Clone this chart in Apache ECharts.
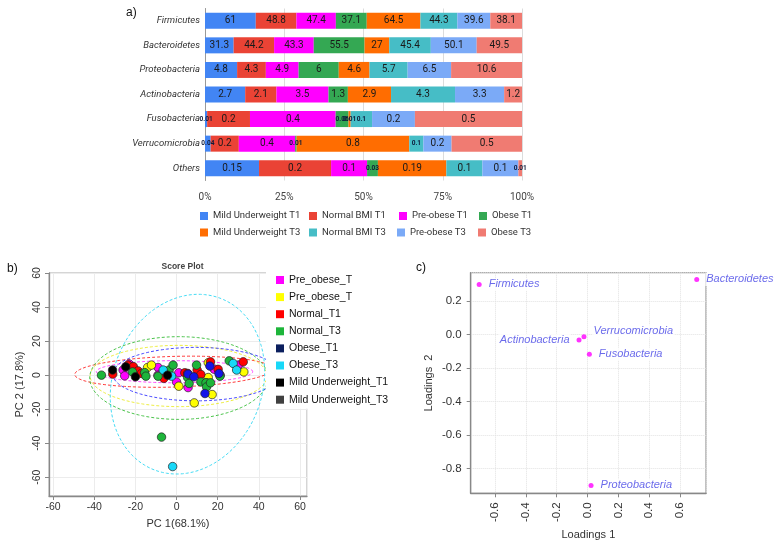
<!DOCTYPE html>
<html><head><meta charset="utf-8">
<script src="https://cdn.jsdelivr.net/npm/echarts@6/dist/echarts.min.js"></script>
<style>html,body{margin:0;padding:0;background:#fff}#c{width:777px;height:542px}</style>
</head><body><div id="c"></div>
<script>
// ---------- Panel a data ----------
const phyla = ['Firmicutes','Bacteroidetes','Proteobacteria','Actinobacteria','Fusobacteria','Verrucomicrobia','Others'];
const barGroups = ['Mild Underweight T1','Normal BMI T1','Pre-obese T1','Obese T1','Mild Underweight T3','Normal BMI T3','Pre-obese T3','Obese T3'];
const mildT1   = [61, 31.3, 4.8, 2.7, 0.01, 0.04, 0.15];
const normalT1 = [48.8, 44.2, 4.3, 2.1, 0.2, 0.2, 0.2];
const preT1    = [47.4, 43.3, 4.9, 3.5, 0.4, 0.4, 0.1];
const obeseT1  = [37.1, 55.5, 6, 1.3, 0.06, 0.01, 0.03];
const mildT3   = [64.5, 27, 4.6, 2.9, 0.01, 0.8, 0.19];
const normalT3 = [44.3, 45.4, 5.7, 4.3, 0.1, 0.1, 0.1];
const preT3    = [39.6, 50.1, 6.5, 3.3, 0.2, 0.2, 0.1];
const obeseT3  = [38.1, 49.5, 10.6, 1.2, 0.5, 0.5, 0.01];

// ---------- Panel b data ----------
const scoreNames  = ['Pre_obese_T1','Pre_obese_T3','Normal_T1','Normal_T3','Obese_T1','Obese_T3','Mild Underweight_T1','Mild Underweight_T3'];
const scoreLabels = ['Pre_obese_T','Pre_obese_T','Normal_T1','Normal_T3','Obese_T1','Obese_T3','Mild Underweight_T1','Mild Underweight_T3'];
const sPreT1 = [[-26,3],[-25.2,-0.4],[-23,6.5],[-9,4.5],[-9,0],[1.1,1.4],[0,-4],[5.6,-7.3],[18.3,3.5],[21.2,0],[30,5.9]];
const sPreT3 = [[-14.1,4.5],[-12.2,5.9],[1.1,-6.5],[8.6,-16.3],[15.4,7.3],[15.4,-1.4],[14.6,-4.5],[17.3,-11.4],[32.7,1.9]];
const sNormT1 = [[-31,0.6],[-23.5,5.9],[-21,5],[-18.7,2.5],[-17,1],[-6.2,-1.9],[4,1.4],[5.4,1],[10,3],[11.8,0.4],[16.5,7.8],[20.2,3.4],[32.4,7.8]];
const sNormT3 = [[-36.5,0],[-21.4,1.9],[-15.5,1.5],[-14.9,-0.6],[-9,-0.6],[-3.6,3],[-1.7,5.9],[5.4,-1.4],[6.1,-4.9],[9.7,5.9],[11.8,-4],[14.3,-4.5],[14.6,-6.9],[16.5,-4.5],[21.1,-0.6],[25.6,8.4],[-7.3,-36.4]];
const sObT1 = [[5.6,0.6],[8.4,-1],[16.2,5.3],[20.6,1],[13.8,-10.8]];
const sObT3 = [[-6.5,3],[-2.4,-0.6],[27.5,6.9],[29.2,3],[-1.9,-53.7]];
const sMildT1 = [[-31.1,3],[-24.7,4.9],[-20,-1],[-4.4,0]];
const sMildT3 = [];
// confidence ellipses: group, centre, radii, rotation (deg)
const ellGroup = ['Normal_T1','Pre_obese_T1','Pre_obese_T3','Normal_T3','Obese_T1','Obese_T3'];
const ellCx = [-1.5, -1, 1, 1.1, 9.6, 5.3];
const ellCy = [2, 2, -0.5, -1.7, 0.6, -5.3];
const ellRx = [48, 38, 43, 43.3, 40.6, 36.8];
const ellRy = [9, 6.5, 18, 24.3, 15.7, 53.3];
const ellAng = [2, 0, 0, 0, 0, -11];

// ---------- Panel c data ----------
const loadNames = ['Firmicutes','Bacteroidetes','Actinobacteria','Verrucomicrobia','Fusobacteria','Proteobacteria'];
const load1 = [-0.702, 0.708, -0.055, -0.023, 0.012, 0.023];
const load2 = [0.298, 0.328, -0.034, -0.014, -0.119, -0.902];

// ---------- build ----------
const barColors = ['#4285f4','#ea4335','#ff00ff','#34a853','#ff6d01','#46bdc6','#7baaf7','#f07b72'];
const rawBars = [mildT1, normalT1, preT1, obeseT1, mildT3, normalT3, preT3, obeseT3];
const totals = phyla.map((_, i) => rawBars.reduce((s, a) => s + a[i], 0));
const scoreData = [sPreT1, sPreT3, sNormT1, sNormT3, sObT1, sObT3, sMildT1, sMildT3];
const scoreColors = ['#ff00ff','#ffff00','#ff0000','#1db53a','#1414e8','#18d8f8','#000000','#404040'];
const ellColors = {Normal_T1:'#ff3b3b', Pre_obese_T1:'#ff4dff', Pre_obese_T3:'#eeee44', Normal_T3:'#4cc44c', Obese_T1:'#4a4aff', Obese_T3:'#46dcf5'};

const fontA = 'Roboto, Arial, sans-serif';
const fontB = '"Liberation Sans", Arial, sans-serif';

const series = [];
rawBars.forEach((arr, si) => {
  series.push({
    type: 'bar', name: barGroups[si], stack: 'a', xAxisIndex: 0, yAxisIndex: 0,
    barWidth: 16, itemStyle: {color: barColors[si]}, emphasis: {disabled: true},
    label: {show: true, position: 'inside', formatter: p => String(p.data.raw), fontSize: 10, color: '#1a1a1a', fontFamily: fontA},
    data: arr.map((v, i) => {
      const pct = v / totals[i] * 100;
      const item = {value: pct, raw: v};
      if (pct < 7 && v < 1) item.label = {fontSize: 6.5, fontWeight: 'bold', color: '#0d1a3a'};
      return item;
    })
  });
});
// ellipses
series.push({
  type: 'custom', xAxisIndex: 1, yAxisIndex: 1, silent: true, z: 1,
  data: ellGroup.map((g, i) => [ellCx[i], ellCy[i], ellRx[i], ellRy[i], ellAng[i], i]),
  renderItem: (params, api) => {
    const cx = api.value(0), cy = api.value(1), rx = api.value(2), ry = api.value(3);
    const a = api.value(4) * Math.PI / 180;
    const pts = [];
    for (let k = 0; k <= 120; k++) {
      const t = k / 120 * Math.PI * 2;
      const x = cx + rx * Math.cos(t) * Math.cos(a) - ry * Math.sin(t) * Math.sin(a);
      const y = cy + rx * Math.cos(t) * Math.sin(a) + ry * Math.sin(t) * Math.cos(a);
      pts.push(api.coord([x, y]));
    }
    return {type: 'polyline', shape: {points: pts}, style: {fill: null, stroke: ellColors[ellGroup[api.value(5)]], lineWidth: 1, lineDash: [3, 2]}};
  }
});
scoreData.forEach((d, si) => {
  series.push({
    type: 'scatter', name: scoreNames[si], xAxisIndex: 1, yAxisIndex: 1, z: 3,
    symbolSize: 8.5, data: d, emphasis: {disabled: true},
    itemStyle: {color: scoreColors[si], borderColor: '#222', borderWidth: 0.7, opacity: 1}
  });
});
// loadings
const labelOpts = {
  Actinobacteria: {position: 'left'},
  Verrucomicrobia: {position: 'right', offset: [0, -6]}
};
series.push({
  type: 'scatter', xAxisIndex: 2, yAxisIndex: 2, symbolSize: 5, z: 3,
  itemStyle: {color: '#ff00ff'}, emphasis: {disabled: true},
  label: {show: true, position: 'right', distance: 6, formatter: p => p.data.name, fontStyle: 'italic', fontSize: 11, color: '#4646e6', fontFamily: fontB, backgroundColor: '#fff', padding: [1, 1]},
  data: loadNames.map((n, i) => {
    const it = {name: n, value: [load1[i], load2[i]]};
    if (labelOpts[n]) it.label = labelOpts[n];
    return it;
  })
});

const barLegendPos = [[200,210],[309,210],[399,210],[479,210],[200,226.5],[309,226.5],[397,226.5],[478,226.5]];
const legends = barGroups.map((g, i) => ({
  data: [g], left: barLegendPos[i][0], top: barLegendPos[i][1], padding: 0,
  icon: 'rect', itemWidth: 8, itemHeight: 8, selectedMode: false,
  textStyle: {fontSize: 9.5, color: '#333', fontFamily: fontA, lineHeight: 12}
}));
legends.push({
  orient: 'vertical', left: 266, top: 268, padding: [6, 8, 3, 10], backgroundColor: '#fff',
  icon: 'rect', itemWidth: 8, itemHeight: 8, itemGap: 5.1, selectedMode: false,
  itemStyle: {borderWidth: 0},
  data: scoreNames.map(n => n === 'Obese_T1' ? {name: n, itemStyle: {color: '#0b1f5e', borderWidth: 0}} : {name: n}),
  formatter: n => scoreLabels[scoreNames.indexOf(n)],
  textStyle: {fontSize: 10.5, color: '#111', fontFamily: fontB, lineHeight: 12}
});

const zeroFmt = v => Math.abs(v) < 1e-9 ? '0.0' : v.toFixed(1);

const option = {
  backgroundColor: '#fff',
  animation: false,
  title: [
    {text: 'a)', left: 121, top: 2, textStyle: {fontSize: 12, fontWeight: 'normal', color: '#111', fontFamily: fontB}},
    {text: 'b)', left: 2, top: 258, textStyle: {fontSize: 12, fontWeight: 'normal', color: '#111', fontFamily: fontB}},
    {text: 'c)', left: 411, top: 257, textStyle: {fontSize: 12, fontWeight: 'normal', color: '#111', fontFamily: fontB}},
    {text: 'Score Plot', left: 177.5, top: 257, textAlign: 'center', textStyle: {fontSize: 8.5, fontWeight: 'bold', color: '#444', fontFamily: fontB}}
  ],
  legend: legends,
  grid: [
    {left: 205, top: 8.5, width: 317, height: 172},
    {left: 49, top: 273, width: 258, height: 223, show: true, borderColor: '#aaa', borderWidth: 1},
    {left: 470.7, top: 272.7, width: 235.3, height: 220.6, show: true, borderColor: '#999', borderWidth: 1.2}
  ],
  xAxis: [
    {type: 'value', gridIndex: 0, min: 0, max: 100, interval: 25,
     axisLine: {show: false}, axisTick: {show: false},
     axisLabel: {formatter: '{value}%', fontSize: 10, color: '#444', fontFamily: fontA, margin: 12},
     splitLine: {lineStyle: {color: '#dcdcdc'}}},
    {type: 'value', gridIndex: 1, min: -62, max: 63.4, splitNumber: 6,
     axisLine: {show: true, onZero: false, lineStyle: {color: '#888', width: 1.3}},
     axisTick: {show: true, length: 4, lineStyle: {color: '#888'}},
     axisLabel: {fontSize: 10.5, color: '#333', fontFamily: fontB, margin: 6, showMinLabel: false, showMaxLabel: false},
     splitLine: {lineStyle: {color: '#ececec'}},
     name: 'PC 1(68.1%)', nameLocation: 'middle', nameGap: 22, nameTextStyle: {fontSize: 11, color: '#333', fontFamily: fontB}},
    {type: 'value', gridIndex: 2, min: -0.757, max: 0.768, splitNumber: 7,
     axisLine: {show: true, onZero: false, lineStyle: {color: '#888', width: 1.3}},
     axisTick: {show: true, length: 4, lineStyle: {color: '#888'}},
     axisLabel: {rotate: 90, fontSize: 11.5, color: '#333', fontFamily: fontB, margin: 9, showMinLabel: false, showMaxLabel: false, formatter: zeroFmt},
     splitLine: {lineStyle: {color: '#e2e2e2', type: 'dotted'}},
     name: 'Loadings 1', nameLocation: 'middle', nameGap: 36, nameTextStyle: {fontSize: 11, color: '#333', fontFamily: fontB}}
  ],
  yAxis: [
    {type: 'category', gridIndex: 0, data: phyla, inverse: true,
     axisLine: {show: true, lineStyle: {color: '#999'}}, axisTick: {show: false},
     axisLabel: {fontStyle: 'italic', fontSize: 9.5, color: '#333', fontFamily: fontA, margin: 5}},
    {type: 'value', gridIndex: 1, min: -71, max: 60, splitNumber: 6,
     axisLine: {show: true, onZero: false, lineStyle: {color: '#888', width: 1.3}},
     axisTick: {show: true, length: 4, lineStyle: {color: '#888'}},
     axisLabel: {rotate: 90, fontSize: 10.5, color: '#333', fontFamily: fontB, margin: 6, showMinLabel: false},
     splitLine: {lineStyle: {color: '#ececec'}},
     name: 'PC 2 (17.8%)', nameLocation: 'middle', nameGap: 24, nameTextStyle: {fontSize: 11, color: '#333', fontFamily: fontB}},
    {type: 'value', gridIndex: 2, min: -0.949, max: 0.368, splitNumber: 6,
     axisLine: {show: true, onZero: false, lineStyle: {color: '#888', width: 1.3}},
     axisTick: {show: true, length: 4, lineStyle: {color: '#888'}},
     axisLabel: {fontSize: 11.5, color: '#333', fontFamily: fontB, margin: 9, showMinLabel: false, showMaxLabel: false, formatter: zeroFmt},
     splitLine: {lineStyle: {color: '#e2e2e2', type: 'dotted'}},
     name: 'Loadings  2', nameLocation: 'middle', nameGap: 36, nameTextStyle: {fontSize: 11, color: '#333', fontFamily: fontB}}
  ],
  series: series
};
const chart = echarts.init(document.getElementById('c'));
chart.setOption(option);
</script></body></html>
